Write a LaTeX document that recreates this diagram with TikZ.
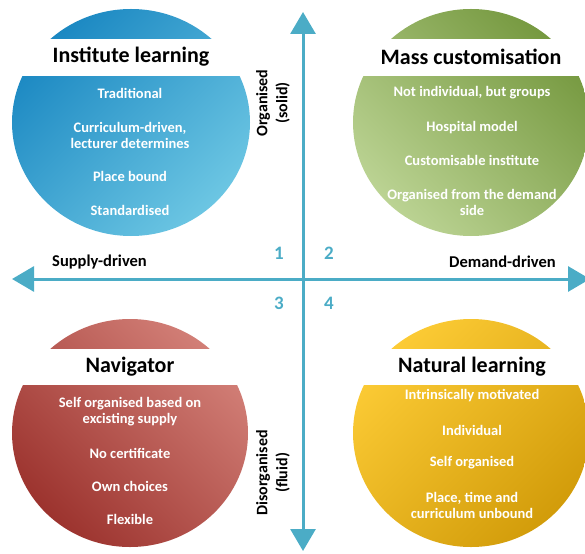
\documentclass[tikz,border=0pt]{standalone}
\usepackage{fontspec}
\setmainfont{Carlito}
\usetikzlibrary{arrows.meta}
\definecolor{axisc}{HTML}{4BACC6}
\definecolor{bluedark}{HTML}{1B88C2}
\definecolor{bluemid}{HTML}{0FA6DF}
\definecolor{bluelight}{HTML}{6CC6E3}
\definecolor{greendark}{HTML}{769940}
\definecolor{greenmid}{HTML}{97B763}
\definecolor{greenlight}{HTML}{BBD393}
\definecolor{reddark}{HTML}{9C332E}
\definecolor{redmid}{HTML}{BC5048}
\definecolor{redlight}{HTML}{D27F77}
\definecolor{yellowlight}{HTML}{FCCB35}
\definecolor{yellowmid}{HTML}{F6BB16}
\definecolor{yellowdark}{HTML}{D29C0A}
\begin{document}
\begin{tikzpicture}[x=1pt,y=-1pt,
  item/.style={text=white,font=\bfseries\fontsize{14.5}{16}\selectfont,align=center,inner sep=0pt},
  ttl/.style={text=black,font=\bfseries\fontsize{22}{26}\selectfont,inner sep=0pt},
  axlbl/.style={text=black,font=\bfseries\fontsize{16.5}{18}\selectfont,inner sep=0pt},
  vlbl/.style={text=black,font=\bfseries\fontsize{16}{20}\selectfont,inner sep=0pt,align=center,rotate=90},
  num/.style={text=axisc,font=\bfseries\fontsize{19}{20}\selectfont,inner sep=0pt},
  axisline/.style={draw=axisc,line width=3pt,{Triangle[length=22pt,width=25pt]}-{Triangle[length=22pt,width=25pt]}},
  band/.style={fill=white,draw=none}]
\clip (0,0) rectangle (585,553);
% ellipses
\shade[top color=bluedark,middle color=bluemid,bottom color=bluelight,shading angle=45]
  (131,122.5) ellipse [x radius=119pt, y radius=113.5pt];
\shade[top color=greendark,middle color=greenmid,bottom color=greenlight,shading angle=-45]
  (471,122.5) ellipse [x radius=118pt, y radius=113.5pt];
\shade[top color=redlight,middle color=redmid,bottom color=reddark,shading angle=-45]
  (130,433) ellipse [x radius=118pt, y radius=114pt];
\shade[top color=yellowlight,middle color=yellowmid,bottom color=yellowdark,shading angle=45]
  (471,433) ellipse [x radius=118pt, y radius=114pt];
% white title bands
\fill[band] (5,39) rectangle (256,76);
\fill[band] (348,39) rectangle (585,76);
\fill[band] (5,349) rectangle (256,385);
\fill[band] (348,349) rectangle (585,385);
% titles
\node[ttl] (t1) at (131,57) {Institute learning};
\node[ttl] (t2) at (471,57) {Mass customisation};
\node[ttl] (t3) at (130,367) {Navigator};
\node[ttl] (t4) at (472,367) {Natural learning};
% items quadrant 1
\node[item] (a1) at (130,93) {Traditional};
\node[item] (a2) at (130,135.5) {Curriculum-driven,\\lecturer determines};
\node[item] (a3) at (130,176) {Place bound};
\node[item] (a4) at (130,210) {Standardised};
% items quadrant 2
\node[item] (b1) at (472,93) {Not individual, but groups};
\node[item] (b2) at (472,128) {Hospital model};
\node[item] (b3) at (472,160) {Customisable institute};
\node[item] (b4) at (472,202) {Organised from the demand\\side};
% items quadrant 3
\node[item] (c1) at (130,411.5) {Self organised based on\\excisting supply};
\node[item] (c2) at (130,453) {No certificate};
\node[item] (c3) at (130,486) {Own choices};
\node[item] (c4) at (130,519) {Flexible};
% items quadrant 4
\node[item] (d1) at (472,396) {Intrinsically motivated};
\node[item] (d2) at (472,430) {Individual};
\node[item] (d3) at (472,463) {Self organised};
\node[item] (d4) at (472,505) {Place, time and\\curriculum unbound};
% axes
\coordinate (N) at (303,12);
\coordinate (S) at (303,551);
\coordinate (W) at (12,279);
\coordinate (E) at (590,279);
\draw[axisline] (S) -- (N);
\draw[axisline] (W) -- (E);
% axis labels
\node[axlbl,anchor=west] (sup) at (52,262) {Supply-driven};
\node[axlbl,anchor=east] (dem) at (556,262) {Demand-driven};
\node[vlbl] (org) at (273,103) {Organised\\(solid)};
\node[vlbl] (dis) at (273,473) {Disorganised\\(fluid)};
% numbers
\node[num] (n1) at (279,253) {1};
\node[num] (n2) at (329,253) {2};
\node[num] (n3) at (279,303) {3};
\node[num] (n4) at (329,303) {4};
\end{tikzpicture}
\end{document}
